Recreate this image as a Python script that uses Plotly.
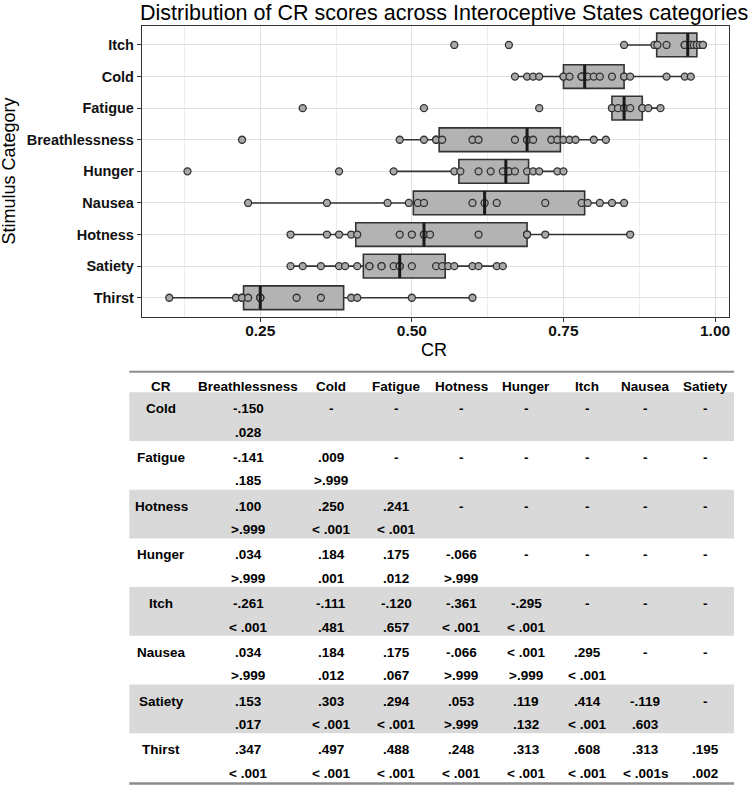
import numpy as np
import plotly.graph_objects as go

# ---------------- data ----------------
categories = ["Thirst", "Satiety", "Hotness", "Nausea", "Hunger",
              "Breathlessness", "Fatigue", "Cold", "Itch"]  # bottom -> top

cr_itch = [0.57, 0.66, 0.85, 0.90, 0.905, 0.92, 0.95, 0.95, 0.96, 0.96, 0.965, 0.97, 0.97, 0.975, 0.98, 0.98]
cr_cold = [0.67, 0.69, 0.70, 0.71, 0.75, 0.75, 0.76, 0.78, 0.78, 0.78, 0.79, 0.80, 0.81, 0.83, 0.85, 0.85, 0.86, 0.92, 0.95, 0.96]
cr_fatigue = [0.32, 0.52, 0.71, 0.83, 0.83, 0.84, 0.85, 0.85, 0.86, 0.88, 0.88, 0.89, 0.91]
cr_breathlessness = [0.22, 0.48, 0.52, 0.54, 0.54, 0.55, 0.60, 0.61, 0.67, 0.69, 0.69, 0.70, 0.73, 0.74, 0.75, 0.76, 0.77, 0.80, 0.82]
cr_hunger = [0.13, 0.38, 0.47, 0.57, 0.58, 0.61, 0.63, 0.65, 0.66, 0.66, 0.67, 0.69, 0.70, 0.71, 0.74, 0.75]
cr_nausea = [0.23, 0.36, 0.46, 0.495, 0.51, 0.52, 0.60, 0.62, 0.64, 0.72, 0.78, 0.79, 0.81, 0.83, 0.85]
cr_hotness = [0.30, 0.36, 0.38, 0.40, 0.41, 0.48, 0.50, 0.52, 0.52, 0.53, 0.61, 0.69, 0.69, 0.69, 0.72, 0.86]
cr_satiety = [0.30, 0.32, 0.35, 0.38, 0.39, 0.41, 0.43, 0.43, 0.45, 0.45, 0.47, 0.48, 0.48, 0.48, 0.50, 0.54, 0.55, 0.56, 0.57, 0.60, 0.61, 0.64, 0.65]
cr_thirst = [0.10, 0.21, 0.22, 0.22, 0.23, 0.25, 0.25, 0.25, 0.31, 0.35, 0.40, 0.41, 0.50, 0.60]

series = {
    "Itch": cr_itch, "Cold": cr_cold, "Fatigue": cr_fatigue,
    "Breathlessness": cr_breathlessness, "Hunger": cr_hunger, "Nausea": cr_nausea,
    "Hotness": cr_hotness, "Satiety": cr_satiety, "Thirst": cr_thirst,
}

x_tick_vals = [0.25, 0.50, 0.75, 1.00]
x_tick_text = ["0.25", "0.50", "0.75", "1.00"]

table_header = ["CR", "Breathlessness", "Cold", "Fatigue", "Hotness", "Hunger", "Itch", "Nausea", "Satiety"]
table_rows = ["Cold", "Fatigue", "Hotness", "Hunger", "Itch", "Nausea", "Satiety", "Thirst"]
table_coef = [
    ["-.150", "-", "-", "-", "-", "-", "-", "-"],
    ["-.141", ".009", "-", "-", "-", "-", "-", "-"],
    [".100", ".250", ".241", "-", "-", "-", "-", "-"],
    [".034", ".184", ".175", "-.066", "-", "-", "-", "-"],
    ["-.261", "-.111", "-.120", "-.361", "-.295", "-", "-", "-"],
    [".034", ".184", ".175", "-.066", "< .001", ".295", "-", "-"],
    [".153", ".303", ".294", ".053", ".119", ".414", "-.119", "-"],
    [".347", ".497", ".488", ".248", ".313", ".608", ".313", ".195"],
]
table_p = [
    [".028", "", "", "", "", "", "", ""],
    [".185", ">.999", "", "", "", "", "", ""],
    [">.999", "< .001", "< .001", "", "", "", "", ""],
    [">.999", ".001", ".012", ">.999", "", "", "", ""],
    ["< .001", ".481", ".657", "< .001", "< .001", "", "", ""],
    [">.999", ".012", ".067", ">.999", ">.999", "< .001", "", ""],
    [".017", "< .001", "< .001", ">.999", ".132", "< .001", ".603", ""],
    ["< .001", "< .001", "< .001", "< .001", "< .001", "< .001", "< .001s", ".002"],
]

# ---------------- layout helpers ----------------
W, H = 750, 786
L, R, T, B = 142, 21, 26, 0
PW, PH = W - L - R, H - T - B


def xp(px):
    return (px - L) / PW


def yp(py):
    return (H - B - py) / PH


FONT = "Liberation Sans, Arial, Helvetica, sans-serif"

# ---------------- stats ----------------
q1s, meds, q3s, lfs, ufs = [], [], [], [], []
for c in categories:
    v = np.sort(np.array(series[c]))
    q1, med, q3 = np.percentile(v, [25, 50, 75])
    iqr = q3 - q1
    q1s.append(q1); meds.append(med); q3s.append(q3)
    lfs.append(v[v >= q1 - 1.5 * iqr].min())
    ufs.append(v[v <= q3 + 1.5 * iqr].max())

fig = go.Figure()
fig.add_trace(go.Box(
    y=categories, q1=q1s, median=meds, q3=q3s, lowerfence=lfs, upperfence=ufs,
    orientation="h", fillcolor="#b3b3b3", line=dict(color="#333333", width=1.6),
    width=0.75, whiskerwidth=0, boxpoints=False, hoverinfo="skip", showlegend=False,
))

px_vals, px_cats = [], []
for c in categories:
    px_vals += list(series[c])
    px_cats += [c] * len(series[c])
fig.add_trace(go.Scatter(
    x=px_vals, y=px_cats, mode="markers", showlegend=False, hoverinfo="skip",
    marker=dict(size=7, color="#a8a8a8", line=dict(color="#333333", width=1.3)),
))

shapes = []
for i, m in enumerate(meds):
    shapes.append(dict(type="line", xref="x", yref="y", x0=m, x1=m, y0=i - 0.375, y1=i + 0.375,
                       line=dict(color="#1a1a1a", width=3)))

# ---------------- table ----------------
t_left, t_right = 129.3, 734
t_top_line = 371.7
row0_top = 392.3
row_h = 48.7
col_x = [161, 248, 331, 396, 461, 526, 587, 645, 705]

for i in range(len(table_rows)):
    if i % 2 == 0:
        top = row0_top + i * row_h
        shapes.append(dict(type="rect", xref="paper", yref="paper",
                           x0=xp(t_left), x1=xp(t_right), y0=yp(top + row_h), y1=yp(top),
                           fillcolor="#d9d9d9", line=dict(width=0), layer="below"))
shapes.append(dict(type="line", xref="paper", yref="paper", x0=xp(t_left), x1=xp(t_right),
                   y0=yp(t_top_line), y1=yp(t_top_line), line=dict(color="#8c8c8c", width=2)))
bot = row0_top + len(table_rows) * row_h + 1.5
shapes.append(dict(type="line", xref="paper", yref="paper", x0=xp(t_left), x1=xp(t_right),
                   y0=yp(bot), y1=yp(bot), line=dict(color="#8c8c8c", width=2.5)))

annotations = []
tfont = dict(family=FONT, size=13.5, color="#000000")


def txt(s, x, y, font=tfont, **kw):
    annotations.append(dict(text=s, x=xp(x), y=yp(y), xref="paper", yref="paper",
                            showarrow=False, xanchor="center", yanchor="middle", font=font, **kw))


for j, h in enumerate(table_header):
    txt("<b>" + h + "</b>", col_x[j], 386.7)
for i, r in enumerate(table_rows):
    top = row0_top + i * row_h
    txt("<b>" + r + "</b>", col_x[0], top + 16.5)
    for j in range(8):
        if table_coef[i][j]:
            txt("<b>" + table_coef[i][j] + "</b>", col_x[j + 1], top + 16.5)
        if table_p[i][j]:
            txt("<b>" + table_p[i][j] + "</b>", col_x[j + 1], top + 40)

# axis titles
txt("CR", 434, 350, font=dict(family=FONT, size=18, color="#000"))
txt("Stimulus Category", 9, 171.5, font=dict(family=FONT, size=18, color="#000"), textangle=-90)

fig.update_layout(
    width=W, height=H,
    margin=dict(l=L, r=R, t=T, b=B, pad=0),
    paper_bgcolor="white", plot_bgcolor="white",
    title=dict(text="Distribution of CR scores across Interoceptive States categories",
               x=140 / W, xanchor="left", xref="container",
               y=1 - 12 / H, yanchor="middle", yref="container",
               font=dict(family=FONT, size=21.5, color="#000")),
    xaxis=dict(range=[0.055, 1.023], tickvals=x_tick_vals, ticktext=["<b>" + t + "</b>" for t in x_tick_text],
               showgrid=True, gridcolor="#e0e0e0", gridwidth=1.2,
               minor=dict(tickvals=[0.125, 0.375, 0.625, 0.875], showgrid=True,
                          gridcolor="#ececec", gridwidth=0.8, ticks=""),
               showline=True, mirror=True, linecolor="#333333", linewidth=1.3,
               ticks="outside", ticklen=4, tickcolor="#333333", tickwidth=1.2,
               ticklabelstandoff=-4,
               tickfont=dict(family=FONT, size=15.5, color="#111"), zeroline=False),
    yaxis=dict(type="category", categoryorder="array", categoryarray=categories,
               range=[-0.6, len(categories) - 0.4], domain=[yp(316.7), 1],
               showgrid=True, gridcolor="#e0e0e0", gridwidth=1.2,
               showline=True, mirror=True, linecolor="#333333", linewidth=1.3,
               ticks="outside", ticklen=4, tickcolor="#333333", tickwidth=1.2,
               tickfont=dict(family=FONT, size=14.5, color="#111"), zeroline=False),
    shapes=shapes, annotations=annotations,
)
fig.update_yaxes(ticktext=["<b>" + c + "</b>" for c in categories], tickvals=categories)

fig.write_html("out.html")
